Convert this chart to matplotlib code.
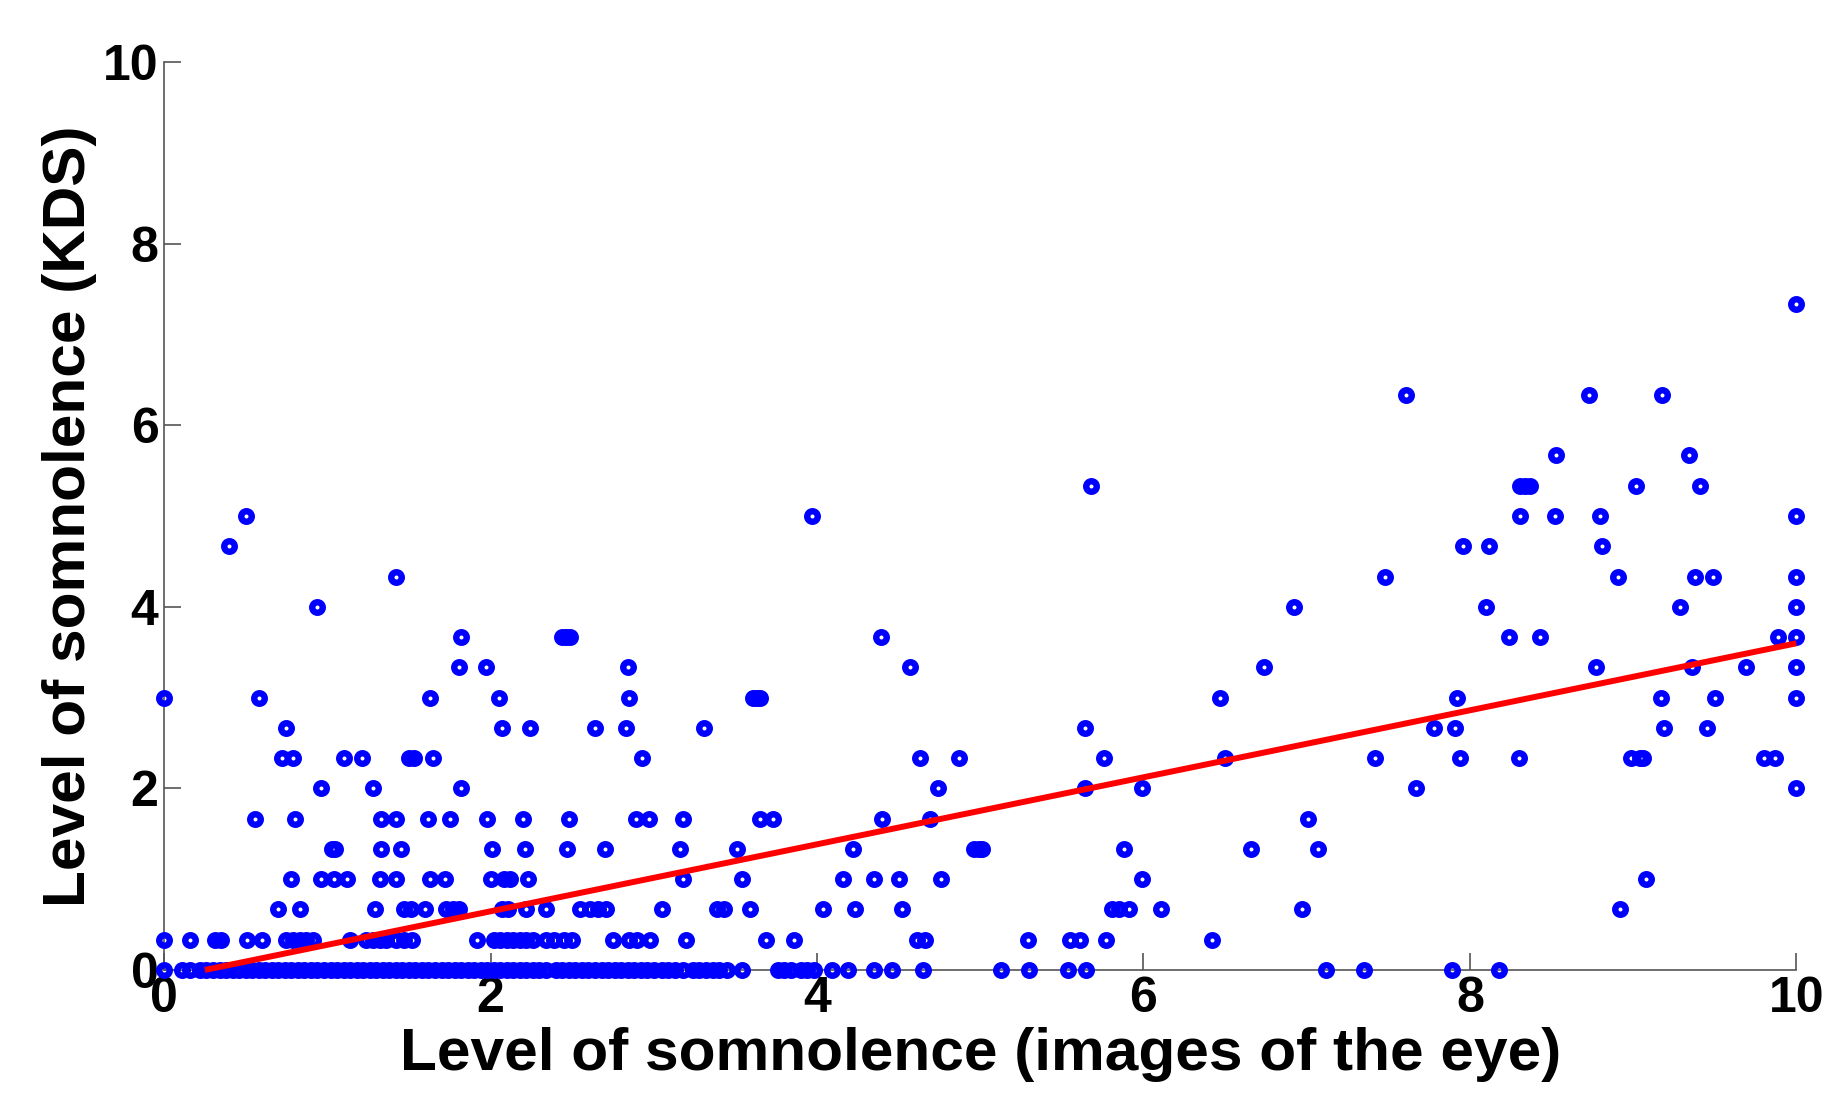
import matplotlib
matplotlib.use('Agg')
import matplotlib.pyplot as plt
import numpy as np

# eye-image score (x) grouped by KDS level (y, in thirds)
eye_kds_0 = [0.0, 0.11, 0.16, 0.22, 0.26, 0.30, 0.34, 0.38, 0.42, 0.46, 0.50, 0.54,
             0.58, 0.62, 0.66, 0.70, 0.74, 0.78, 0.82, 0.86, 0.90, 0.94, 0.98, 1.02,
             1.06, 1.10, 1.14, 1.18, 1.22, 1.26, 1.30, 1.34, 1.38, 1.42, 1.46, 1.50,
             1.54, 1.58, 1.62, 1.66, 1.70, 1.74, 1.78, 1.82, 1.86, 1.90, 1.94, 1.98,
             2.02, 2.06, 2.10, 2.14, 2.18, 2.22, 2.26, 2.30, 2.34, 2.40, 2.44, 2.48,
             2.52, 2.56, 2.60, 2.64, 2.68, 2.72, 2.76, 2.80, 2.84, 2.88, 2.92, 2.96,
             3.00, 3.05, 3.09, 3.13, 3.18, 3.24, 3.28, 3.32, 3.36, 3.40, 3.45, 3.54,
             3.76, 3.80, 3.84, 3.90, 3.94, 3.98, 4.09, 4.19, 4.35, 4.46, 4.65, 5.13,
             5.30, 5.54, 5.65, 7.12, 7.35, 7.89, 8.18]
eye_kds_0p33 = [0.0, 0.16, 0.31, 0.35, 0.51, 0.60, 0.75, 0.79, 0.83, 0.87, 0.91, 1.14,
                1.24, 1.28, 1.32, 1.36, 1.42, 1.47, 1.52, 1.92, 2.02, 2.06, 2.10, 2.14,
                2.18, 2.22, 2.26, 2.34, 2.39, 2.45, 2.50, 2.75, 2.85, 2.90, 2.98, 3.20,
                3.69, 3.86, 4.61, 4.66, 5.29, 5.55, 5.61, 5.77, 6.42]
eye_kds_0p67 = [0.70, 0.83, 1.29, 1.47, 1.51, 1.60, 1.73, 1.77, 1.81, 2.07, 2.11, 2.22,
                2.34, 2.55, 2.61, 2.66, 2.71, 3.05, 3.39, 3.43, 3.59, 4.04, 4.23, 4.52,
                5.81, 5.85, 5.91, 6.11, 6.97, 8.92]
eye_kds_1 = [0.78, 0.96, 1.04, 1.12, 1.32, 1.42, 1.63, 1.72, 2.00, 2.08, 2.12, 2.23,
             3.18, 3.54, 4.16, 4.35, 4.50, 4.76, 5.99, 9.08]
eye_kds_1p33 = [1.03, 1.05, 1.33, 1.45, 2.01, 2.21, 2.47, 2.70, 3.16, 3.51, 4.22, 4.96,
                4.99, 5.01, 5.88, 6.66, 7.07]
eye_kds_1p67 = [0.56, 0.80, 1.33, 1.42, 1.62, 1.75, 1.98, 2.20, 2.48, 2.89, 2.97, 3.18,
                3.65, 3.73, 4.40, 4.69, 7.01]
eye_kds_2 = [0.96, 1.28, 1.82, 4.74, 5.64, 5.99, 7.67, 10.0]
eye_kds_2p33 = [0.72, 0.79, 1.10, 1.21, 1.50, 1.53, 1.65, 2.93, 4.63, 4.87, 5.76, 6.50,
                7.42, 7.94, 8.30, 8.99, 9.04, 9.06, 9.80, 9.87]
eye_kds_2p67 = [0.75, 2.07, 2.24, 2.64, 2.83, 3.31, 5.64, 7.78, 7.91, 9.19, 9.45]
eye_kds_3 = [0.0, 0.58, 1.63, 2.05, 2.85, 3.61, 3.63, 3.65, 6.47, 7.92, 9.17, 9.50, 10.0]
eye_kds_3p33 = [1.81, 1.97, 2.84, 4.57, 6.74, 8.77, 9.36, 9.69, 10.0]
eye_kds_3p67 = [1.82, 2.44, 2.46, 2.49, 4.39, 8.24, 8.43, 9.89, 10.0]
eye_kds_4 = [0.94, 6.92, 8.10, 9.29, 10.0]
eye_kds_4p33 = [1.42, 7.48, 8.91, 9.38, 9.49, 10.0]
eye_kds_4p67 = [0.40, 7.96, 8.12, 8.81]
eye_kds_5 = [0.50, 3.97, 8.31, 8.52, 8.80, 10.0]
eye_kds_5p33 = [5.68, 8.31, 8.34, 8.37, 9.02, 9.41]
eye_kds_5p67 = [8.53, 9.34]
eye_kds_6p33 = [7.61, 8.73, 9.18]
eye_kds_7p33 = [10.0]

kds_levels = [0, 1/3, 2/3, 1, 4/3, 5/3, 2, 7/3, 8/3, 3, 10/3, 11/3, 4, 13/3, 14/3,
              5, 16/3, 17/3, 19/3, 22/3]
eye_groups = [eye_kds_0, eye_kds_0p33, eye_kds_0p67, eye_kds_1, eye_kds_1p33,
              eye_kds_1p67, eye_kds_2, eye_kds_2p33, eye_kds_2p67, eye_kds_3,
              eye_kds_3p33, eye_kds_3p67, eye_kds_4, eye_kds_4p33, eye_kds_4p67,
              eye_kds_5, eye_kds_5p33, eye_kds_5p67, eye_kds_6p33, eye_kds_7p33]

# linear fit shown in red
fit_slope = 0.369
fit_intercept = -0.092
fit_x = [0.25, 10.0]

ticks = [0, 2, 4, 6, 8, 10]

x = np.concatenate([np.array(g, dtype=float) for g in eye_groups])
y = np.concatenate([np.full(len(g), lv) for g, lv in zip(eye_groups, kds_levels)])

plt.rcParams['font.family'] = ['Liberation Sans', 'DejaVu Sans']
plt.rcParams['font.weight'] = 'bold'

fig = plt.figure(figsize=(18.33, 10.98), dpi=100)
ax = fig.add_axes([0.0895, 0.1166, 0.8905, 0.8269])

ax.plot(x, y, 'o', color='#0000ff', mfc='none', ms=7.6, mew=4.6,
        clip_on=False, zorder=3)
fx = np.array(fit_x)
ax.plot(fx, fit_slope * fx + fit_intercept, color='#ff0000', lw=4.3,
        solid_capstyle='butt', zorder=4, clip_on=False)

ax.set_xlim(0, 10)
ax.set_ylim(0, 10)
ax.set_xticks(ticks)
ax.set_yticks(ticks)
ax.tick_params(direction='in', length=12, width=1.2, color='#555555',
               labelsize=36, pad=4)
for lab in ax.get_xticklabels() + ax.get_yticklabels():
    lab.set_fontweight('bold')
for s in ['top', 'right']:
    ax.spines[s].set_visible(False)
for s in ['left', 'bottom']:
    ax.spines[s].set_color('#555555')
    ax.spines[s].set_linewidth(1.2)

ax.set_xlabel('Level of somnolence (images of the eye)', fontsize=43.5,
              fontweight='bold', labelpad=4)
ax.set_ylabel('Level of somnolence (KDS)', fontsize=43.5, fontweight='bold',
              labelpad=4)

fig.savefig('out.png', dpi=100, facecolor='white')
